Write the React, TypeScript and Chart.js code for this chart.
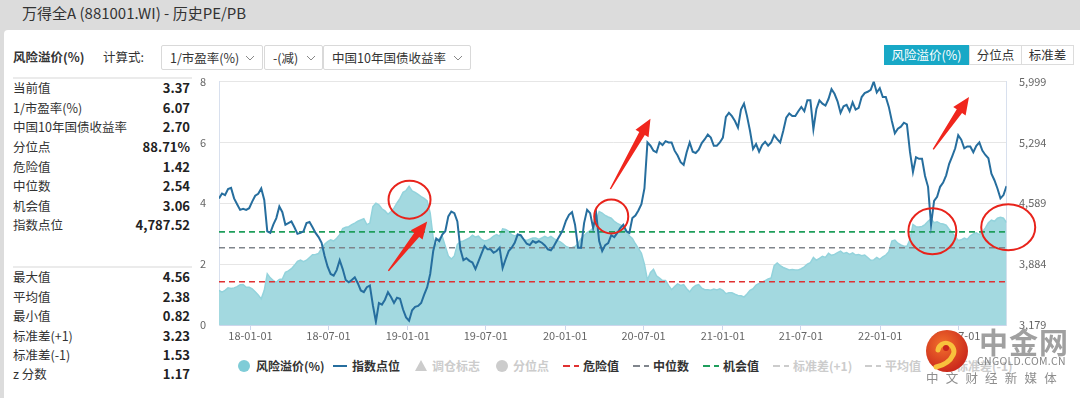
import React, { useEffect, useRef } from 'react';
import { Chart, registerables } from 'chart.js';

Chart.register(...registerables);

const FONT = '"Noto Sans CJK SC", "Noto Sans", sans-serif';

// ---------- data ----------
const startDate = '2017-10-20';
const endDate = '2022-10-21';
const stepDays = 7;
const tickDates = ['2018-01-01', '2018-07-01', '2019-01-01', '2019-07-01', '2020-01-01', '2020-07-01', '2021-01-01', '2021-07-01', '2022-01-01', '2022-07-01'];
const tickLabels = ['18-01-01', '18-07-01', '19-01-01', '19-07-01', '20-01-01', '20-07-01', '21-01-01', '21-07-01', '22-01-01', '22-07-01'];

const rpValues = [
  1.14, 1.08, 1.14, 1.22, 1.20, 1.22, 1.26, 1.32, 1.33, 1.24,
  1.24, 1.19, 1.09, 0.99, 0.86, 1.14, 1.68, 1.55, 1.46, 1.41,
  1.50, 1.51, 1.73, 1.78, 1.85, 1.96, 2.09, 2.13, 2.08, 2.13,
  2.22, 2.31, 2.32, 2.35, 2.52, 2.65, 2.74, 2.80, 2.76, 2.85,
  2.97, 3.17, 3.21, 3.23, 3.30, 3.35, 3.41, 3.45, 3.49, 3.30,
  3.35, 3.89, 4.00, 3.95, 3.82, 3.75, 3.64, 3.73, 3.84, 4.01,
  4.16, 4.36, 4.42, 4.56, 4.41, 4.36, 4.29, 4.22, 4.16, 4.08,
  3.68, 2.86, 2.59, 2.84, 2.91, 2.59, 2.27, 2.17, 2.27, 2.65,
  2.74, 2.76, 2.81, 2.86, 2.95, 2.89, 2.92, 2.81, 2.76, 2.79,
  2.84, 2.92, 2.97, 2.92, 3.16, 3.14, 3.08, 2.97, 2.93, 2.97,
  2.89, 2.81, 2.78, 2.82, 2.86, 2.86, 2.81, 2.86, 2.91, 2.86,
  2.91, 2.84, 2.78, 2.74, 2.67, 2.58, 2.54, 2.54, 2.58, 2.68,
  2.84, 2.94, 3.04, 3.10, 3.19, 3.43, 3.73, 3.68, 3.60, 3.55,
  3.51, 3.41, 3.34, 3.29, 3.24, 3.10, 2.93, 2.84, 2.67, 2.52,
  2.36, 2.00, 1.48, 1.73, 1.83, 1.62, 1.54, 1.46, 1.46, 1.30,
  1.16, 1.26, 1.35, 1.30, 1.33, 1.19, 1.09, 1.22, 1.30, 1.33,
  1.21, 1.16, 1.16, 1.14, 1.18, 1.15, 1.19, 1.14, 1.03, 1.06,
  1.06, 1.01, 0.97, 0.96, 0.92, 1.02, 1.14, 1.19, 1.31, 1.37,
  1.41, 1.46, 1.51, 1.55, 1.95, 2.04, 1.95, 1.89, 1.85, 1.81,
  1.82, 1.81, 1.81, 1.85, 1.91, 2.00, 2.05, 2.22, 2.13, 2.19,
  2.26, 2.22, 2.36, 2.29, 2.32, 2.38, 2.43, 2.35, 2.38, 2.32,
  2.37, 2.30, 2.32, 2.28, 2.30, 2.22, 2.13, 2.14, 2.22, 2.16,
  2.24, 2.30, 2.41, 2.76, 2.79, 2.69, 2.63, 2.59, 2.59, 2.81,
  3.30, 3.23, 3.22, 3.24, 3.30, 3.41, 3.49, 3.36, 3.39, 3.34,
  3.32, 3.28, 3.15, 3.03, 2.91, 2.78, 2.80, 2.86, 2.81, 2.93,
  2.99, 3.03, 2.97, 3.06, 3.19, 3.36, 3.45, 3.41, 3.51, 3.54,
  3.51, 3.37,
];

const indexValues = [
  4646, 4703, 4684, 4753, 4768, 4646, 4578, 4513, 4524, 4513,
  4532, 4608, 4677, 4700, 4761, 4627, 4265, 4246, 4341, 4418,
  4551, 4486, 4341, 4360, 4379, 4311, 4235, 4246, 4265, 4360,
  4372, 4311, 4246, 4197, 4132, 3979, 3854, 3770, 3751, 3815,
  3930, 3827, 3701, 3674, 3701, 3732, 3663, 3579, 3560, 3617,
  3636, 3408, 3217, 3434, 3415, 3472, 3560, 3503, 3434, 3495,
  3484, 3358, 3267, 3229, 3350, 3389, 3400, 3434, 3530, 3617,
  3770, 4036, 4181, 4151, 4227, 4265, 4437, 4494, 4475, 4379,
  4056, 3930, 3953, 3922, 3903, 3827, 3915, 4006, 4094, 4056,
  4056, 4017, 4036, 4075, 3838, 3941, 4036, 4075, 4132, 4227,
  4219, 4170, 4120, 4105, 4151, 4132, 4151, 4132, 4101, 4056,
  4044, 4094, 4158, 4219, 4284, 4387, 4456, 4486, 4341, 4075,
  4075, 4360, 4513, 4475, 4303, 4475, 4151, 4036, 4105, 4128,
  4219, 4197, 4246, 4303, 4341, 4265, 4246, 4418, 4448, 4505,
  4578, 4761, 5294, 5256, 5199, 5180, 5294, 5264, 5309, 5294,
  5294, 5199, 5142, 5065, 5035, 5180, 5294, 5187, 5172, 5210,
  5287, 5332, 5386, 5351, 5256, 5256, 5294, 5351, 5591, 5637,
  5599, 5542, 5466, 5675, 5744, 5599, 5427, 5218, 5275, 5187,
  5264, 5302, 5256, 5294, 5378, 5332, 5294, 5427, 5580, 5629,
  5599, 5599, 5656, 5706, 5656, 5782, 5782, 5447, 5683, 5782,
  5744, 5721, 5797, 5912, 5858, 5770, 5637, 5713, 5729, 5656,
  5759, 5675, 5694, 5820, 5866, 5881, 5904, 5999, 5873, 5923,
  5820, 5820, 5706, 5542, 5401, 5454, 5477, 5523, 5504, 5187,
  4951, 5123, 5104, 5104, 4905, 4780, 4341, 4616, 4665, 4780,
  4829, 4913, 5046, 5134, 5226, 5378, 5325, 5226, 5248, 5248,
  5180, 5256, 5294, 5199, 5149, 5111, 4932, 4856, 4761, 4646,
  4684, 4787.52,
];

const dangerValue = 1.42;
const medianValue = 2.54;
const chanceValue = 3.06;
const leftTicks = [0, 2, 4, 6, 8];
const rightTicks = [3179, 3884, 4589, 5294, 5999];

const statsTop: [string, string][] = [
  ['当前值', '3.37'],
  ['1/市盈率(%)', '6.07'],
  ['中国10年国债收益率', '2.70'],
  ['分位点', '88.71%'],
  ['危险值', '1.42'],
  ['中位数', '2.54'],
  ['机会值', '3.06'],
  ['指数点位', '4,787.52'],
];
const statsBottom: [string, string][] = [
  ['最大值', '4.56'],
  ['平均值', '2.38'],
  ['最小值', '0.82'],
  ['标准差(+1)', '3.23'],
  ['标准差(-1)', '1.53'],
  ['z 分数', '1.17'],
];

// hand-drawn annotations (date offset in days, left-axis value)
const circleMarks = [
  { day: 442, value: 4.12, rx: 21, ry: 19 },
  { day: 910, value: 3.57, rx: 17, ry: 17 },
  { day: 1655, value: 3.08, rx: 24, ry: 23 },
  { day: 1831, value: 3.21, rx: 27, ry: 23 },
];
const arrowMarks = [
  { from: [393, 1.78], to: [483, 3.4] },
  { from: [908, 4.47], to: [1001, 6.78] },
  { from: [1657, 5.77], to: [1740, 7.49] },
];

const dayOf = (d: string) => Math.round((Date.parse(d) - Date.parse(startDate)) / 86400000);

const annotatePlugin = {
  id: 'annotate',
  afterDatasetsDraw(chart: any) {
    const { ctx } = chart;
    const x = chart.scales.x;
    const y = chart.scales.y;
    ctx.save();
    ctx.strokeStyle = '#e8231b';
    ctx.lineWidth = 2;
    circleMarks.forEach((c) => {
      ctx.beginPath();
      ctx.ellipse(x.getPixelForValue(c.day), y.getPixelForValue(c.value), c.rx, c.ry, 0, 0, Math.PI * 2);
      ctx.stroke();
    });
    ctx.fillStyle = '#f0261d';
    arrowMarks.forEach((a) => {
      const x0 = x.getPixelForValue(a.from[0]);
      const y0 = y.getPixelForValue(a.from[1]);
      const x1 = x.getPixelForValue(a.to[0]);
      const y1 = y.getPixelForValue(a.to[1]);
      const dx = x1 - x0;
      const dy = y1 - y0;
      const L = Math.hypot(dx, dy);
      const ux = dx / L;
      const uy = dy / L;
      const nx = -uy;
      const ny = ux;
      const h = 17;
      const bx = x1 - ux * h;
      const by = y1 - uy * h;
      ctx.beginPath();
      ctx.moveTo(x0 + nx * 0.7, y0 + ny * 0.7);
      ctx.lineTo(bx + nx * 3.2, by + ny * 3.2);
      ctx.lineTo(bx + nx * 7.5, by + ny * 7.5);
      ctx.lineTo(x1, y1);
      ctx.lineTo(bx - nx * 7.5, by - ny * 7.5);
      ctx.lineTo(bx - nx * 3.2, by - ny * 3.2);
      ctx.lineTo(x0 - nx * 0.7, y0 - ny * 0.7);
      ctx.closePath();
      ctx.fill();
    });
    ctx.restore();
  },
};

function ChartBox() {
  const ref = useRef<HTMLCanvasElement>(null);
  useEffect(() => {
    if (!ref.current) return;
    const xMax = dayOf(endDate);
    const tickDays = tickDates.map(dayOf);
    const rpPts = rpValues.map((v, i) => ({ x: i * stepDays, y: v }));
    const idxPts = indexValues.map((v, i) => ({ x: i * stepDays, y: v }));
    const hLine = (v: number) => [{ x: 0, y: v }, { x: xMax, y: v }];
    const axisFont = { family: FONT, size: 11 };
    const chart = new Chart(ref.current, {
      type: 'line',
      data: {
        datasets: [
          {
            label: '指数点位',
            data: idxPts,
            yAxisID: 'y1',
            borderColor: '#266e9e',
            borderWidth: 2,
            pointRadius: 0,
            fill: false,
            tension: 0,
            order: 0,
          },
          {
            label: '危险值',
            data: hLine(dangerValue),
            yAxisID: 'y',
            borderColor: '#e03131',
            borderWidth: 1.6,
            borderDash: [6, 4],
            pointRadius: 0,
            fill: false,
            order: 1,
          },
          {
            label: '中位数',
            data: hLine(medianValue),
            yAxisID: 'y',
            borderColor: '#80858c',
            borderWidth: 1.6,
            borderDash: [6, 4],
            pointRadius: 0,
            fill: false,
            order: 1,
          },
          {
            label: '机会值',
            data: hLine(chanceValue),
            yAxisID: 'y',
            borderColor: '#1f9e5c',
            borderWidth: 1.6,
            borderDash: [6, 4],
            pointRadius: 0,
            fill: false,
            order: 1,
          },
          {
            label: '风险溢价(%)',
            data: rpPts,
            yAxisID: 'y',
            borderColor: '#93d3dc',
            backgroundColor: '#a3d9e0',
            borderWidth: 1.5,
            pointRadius: 0,
            fill: 'origin',
            tension: 0,
            order: 2,
          },
        ],
      },
      options: {
        animation: false,
        responsive: true,
        maintainAspectRatio: false,
        layout: { padding: { top: 14, left: 0, right: 0, bottom: 0 } },
        plugins: { legend: { display: false }, tooltip: { enabled: false } },
        scales: {
          x: {
            type: 'linear',
            min: 0,
            max: xMax,
            afterBuildTicks: (s: any) => {
              s.ticks = tickDays.map((v) => ({ value: v }));
            },
            afterFit: (s: any) => {
              s.height = 20;
            },
            ticks: {
              autoSkip: false,
              maxRotation: 0,
              padding: -1,
              color: '#666',
              font: axisFont,
              callback: (v: any) => {
                const k = tickDays.indexOf(Number(v));
                return k >= 0 ? tickLabels[k] : '';
              },
            },
            grid: { drawOnChartArea: false, drawTicks: true, tickLength: 5, color: '#ccd6eb' },
            border: { color: '#ccd6eb' },
          },
          y: {
            position: 'left',
            min: 0,
            max: 8,
            afterBuildTicks: (s: any) => {
              s.ticks = leftTicks.map((v) => ({ value: v }));
            },
            afterFit: (s: any) => {
              s.width = 24;
            },
            ticks: { padding: 13, color: '#666', font: axisFont },
            grid: { color: '#e6e6e6', drawTicks: false },
            border: { color: '#d8e0ee' },
          },
          y1: {
            position: 'right',
            min: 3179,
            max: 5999,
            afterBuildTicks: (s: any) => {
              s.ticks = rightTicks.map((v) => ({ value: v }));
            },
            afterFit: (s: any) => {
              s.width = 53.5;
            },
            ticks: {
              padding: 12.5,
              color: '#666',
              font: axisFont,
              callback: (v: any) => Number(v).toLocaleString('en-US'),
            },
            grid: { drawOnChartArea: false, drawTicks: false },
            border: { color: '#d8e0ee' },
          },
        },
      },
      plugins: [annotatePlugin],
    } as any);
    return () => chart.destroy();
  }, []);
  return (
    <div style={{ position: 'absolute', left: 195, top: 62, width: 865, height: 283 }}>
      <canvas ref={ref} />
    </div>
  );
}

const Chevron = ({ left, top }: { left: number; top: number }) => (
  <svg width="10" height="6" style={{ position: 'absolute', left, top }}>
    <polyline points="1,1 5,5 9,1" fill="none" stroke="#888" strokeWidth="1" />
  </svg>
);

function Dropdown({ left, width, text, chevronLeft }: { left: number; width: number; text: string; chevronLeft: number }) {
  return (
    <div
      style={{
        position: 'absolute',
        left,
        top: 45,
        width,
        height: 25,
        boxSizing: 'border-box',
        border: '1px solid #d9d9d9',
        borderRadius: 2,
        background: '#fff',
      }}
    >
      <div style={{ position: 'absolute', left: 8, top: 0, lineHeight: '23px', fontSize: 12.5, color: '#333', whiteSpace: 'nowrap' }}>{text}</div>
      <Chevron left={chevronLeft} top={9} />
    </div>
  );
}

function StatRows({ rows, top, step }: { rows: [string, string][]; top: number; step: number }) {
  return (
    <>
      {rows.map(([k, v], i) => (
        <React.Fragment key={k}>
          <div style={{ position: 'absolute', left: 13, top: top + i * step - 10, lineHeight: '20px', fontSize: 12.5, color: '#333', whiteSpace: 'nowrap' }}>{k}</div>
          <div style={{ position: 'absolute', left: 100, width: 90, textAlign: 'right', top: top + i * step - 10, lineHeight: '20px', fontSize: 13, fontWeight: 700, color: '#222' }}>{v}</div>
        </React.Fragment>
      ))}
    </>
  );
}

type LegendItem = { text: string; x: number; sym: 'circle' | 'line' | 'tri' | 'dash'; color: string; active: boolean; textX: number };
const legendItems: LegendItem[] = [
  { text: '风险溢价(%)', x: 244, sym: 'circle', color: '#7fccd7', active: true, textX: 256 },
  { text: '指数点位', x: 340, sym: 'line', color: '#266e9e', active: true, textX: 352 },
  { text: '调仓标志', x: 421, sym: 'tri', color: '#cccccc', active: false, textX: 432 },
  { text: '分位点', x: 502, sym: 'circle', color: '#cccccc', active: false, textX: 513 },
  { text: '危险值', x: 571, sym: 'dash', color: '#e03131', active: true, textX: 583 },
  { text: '中位数', x: 641, sym: 'dash', color: '#80858c', active: true, textX: 653 },
  { text: '机会值', x: 711, sym: 'dash', color: '#1f9e5c', active: true, textX: 723 },
  { text: '标准差(+1)', x: 781, sym: 'dash', color: '#cccccc', active: false, textX: 793 },
  { text: '平均值', x: 873, sym: 'dash', color: '#cccccc', active: false, textX: 885 },
  { text: '标准差(-1)', x: 944, sym: 'dash', color: '#cccccc', active: false, textX: 956 },
];

function Legend() {
  const cy = 366;
  return (
    <>
      {legendItems.map((it) => (
        <React.Fragment key={it.text}>
          <svg width="20" height="14" style={{ position: 'absolute', left: it.x - 10, top: cy - 7 }}>
            {it.sym === 'circle' && <circle cx="10" cy="7" r="6" fill={it.color} />}
            {it.sym === 'line' && <line x1="3" y1="7" x2="17" y2="7" stroke={it.color} strokeWidth="2" />}
            {it.sym === 'tri' && <polygon points="10,1 16,12 4,12" fill={it.color} />}
            {it.sym === 'dash' && <line x1="2" y1="7" x2="18" y2="7" stroke={it.color} strokeWidth="2" strokeDasharray="7,4" />}
          </svg>
          <div
            style={{
              position: 'absolute',
              left: it.textX,
              top: cy - 10,
              lineHeight: '20px',
              fontSize: 12,
              fontWeight: 700,
              color: it.active ? '#333' : '#cccccc',
              whiteSpace: 'nowrap',
            }}
          >
            {it.text}
          </div>
        </React.Fragment>
      ))}
    </>
  );
}

function Watermark() {
  return (
    <div style={{ position: 'absolute', left: 0, top: 0, width: 1080, height: 398, pointerEvents: 'none', zIndex: 5 }}>
      <svg width="44" height="44" style={{ position: 'absolute', left: 925, top: 329 }}>
        <defs>
          <radialGradient id="wmg" cx="40%" cy="35%" r="70%">
            <stop offset="0" stopColor="#f2702c" />
            <stop offset="1" stopColor="#c8241b" />
          </radialGradient>
        </defs>
        <circle cx="22" cy="22" r="21" fill="url(#wmg)" />
        <path d="M13 21 a8 8 0 1 1 15 5 q-4 9 -17 12" stroke="#f8c23c" strokeWidth="5" fill="none" strokeLinecap="round" />
        <circle cx="21" cy="19" r="3" fill="#c8241b" />
      </svg>
      <div style={{ position: 'absolute', left: 979, top: 325, fontSize: 29, fontWeight: 700, color: 'rgba(150,150,150,0.9)', lineHeight: '32px', letterSpacing: 1 }}>中金网</div>
      <div style={{ position: 'absolute', left: 977, top: 354, fontSize: 10.5, color: 'rgba(120,120,120,0.9)', lineHeight: '14px', letterSpacing: 0.3 }}>CNGOLD.COM.CN</div>
      <div style={{ position: 'absolute', left: 926, top: 370, fontSize: 12.5, color: 'rgba(130,130,130,0.9)', lineHeight: '16px', letterSpacing: 7.2 }}>中文财经新媒体</div>
    </div>
  );
}

export default function App() {
  return (
    <div style={{ position: 'fixed', left: 0, top: 0, width: 1080, height: 398, background: '#dcdcdc', overflow: 'hidden', fontFamily: FONT }}>
      <div style={{ position: 'absolute', left: 22, top: 2, fontSize: 15, lineHeight: '22px', color: '#333', whiteSpace: 'nowrap' }}>万得全A (881001.WI) - 历史PE/PB</div>
      <div style={{ position: 'absolute', left: 4, top: 30, width: 1076, height: 368, background: '#fff', borderTopLeftRadius: 4 }} />

      <div style={{ position: 'absolute', left: 13, top: 47, lineHeight: '20px', fontSize: 12.5, fontWeight: 700, color: '#333' }}>风险溢价(%)</div>
      <div style={{ position: 'absolute', left: 103, top: 47, lineHeight: '20px', fontSize: 12.5, color: '#333' }}>计算式:</div>
      <Dropdown left={161} width={102} text="1/市盈率(%)" chevronLeft={83} />
      <Dropdown left={264} width={59} text="-(减)" chevronLeft={41} />
      <Dropdown left={323} width={148} text="中国10年国债收益率" chevronLeft={129} />

      <div style={{ position: 'absolute', left: 884, top: 45, height: 20, display: 'flex', fontSize: 12.5 }}>
        <div style={{ width: 85, height: 20, lineHeight: '20px', textAlign: 'center', background: '#18a8c6', color: '#fff', boxSizing: 'border-box' }}>风险溢价(%)</div>
        <div style={{ width: 53, height: 20, lineHeight: '18px', textAlign: 'center', border: '1px solid #dcdcdc', color: '#333', boxSizing: 'border-box' }}>分位点</div>
        <div style={{ width: 52, height: 20, lineHeight: '18px', textAlign: 'center', border: '1px solid #dcdcdc', borderLeft: 'none', color: '#333', boxSizing: 'border-box' }}>标准差</div>
      </div>

      <div style={{ position: 'absolute', left: 13, top: 77, width: 179, height: 2, background: '#ebebeb' }} />
      <StatRows rows={statsTop} top={88.3} step={19.57} />
      <div style={{ position: 'absolute', left: 13, top: 266, width: 179, height: 2, background: '#ebebeb' }} />
      <StatRows rows={statsBottom} top={277.3} step={19.4} />

      <ChartBox />
      <Legend />
      <Watermark />
    </div>
  );
}
